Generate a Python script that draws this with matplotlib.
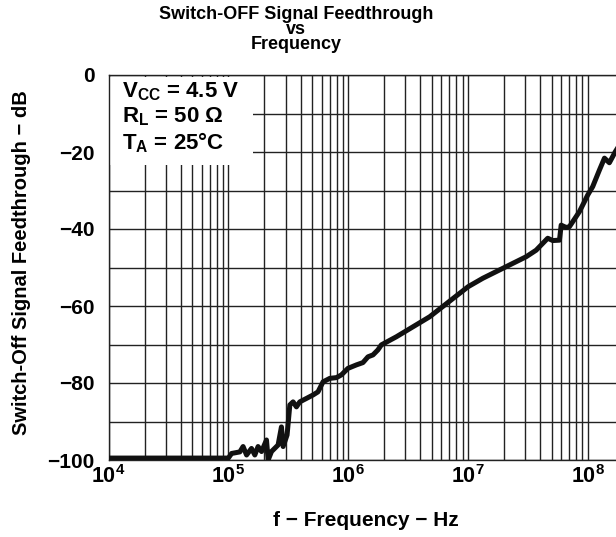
import numpy as np
import matplotlib
matplotlib.use("Agg")
import matplotlib.pyplot as plt
from matplotlib.patches import Rectangle
from matplotlib.ticker import FixedLocator, LogLocator, NullFormatter

plt.rcParams['font.family'] = ['Liberation Sans', 'DejaVu Sans']
plt.rcParams['font.weight'] = 'bold'
plt.rcParams['mathtext.fontset'] = 'custom'
plt.rcParams['mathtext.rm'] = 'Liberation Sans:bold'
plt.rcParams['mathtext.bf'] = 'Liberation Sans:bold'
plt.rcParams['mathtext.it'] = 'Liberation Sans:bold'

# frequency (Hz) and feedthrough (dB)
freq = [1.0e4, 1.0e5, 1.064e5, 1.247e5, 1.327e5, 1.419e5, 1.56e5, 1.663e5, 1.77e5,
        1.892e5, 2.08e5, 2.148e5, 2.291e5, 2.6e5, 2.773e5, 2.864e5, 3.09e5,
        3.258e5, 3.467e5, 3.698e5, 3.945e5, 4.487e5, 5.093e5, 5.598e5, 6.166e5,
        7.015e5, 7.98e5, 8.77e5, 9.95e5, 1.17e6, 1.327e6, 1.462e6, 1.61e6,
        1.77e6, 1.89e6, 2.52e6, 3.47e6, 4.78e6, 1.0e7, 1.327e7, 3.055e7, 3.7e7,
        4.62e7, 5.09e7, 5.79e7, 5.98e7, 6.58e7, 7.01e7, 8.49e7, 9.35e7, 9.95e7,
        1.096e8, 1.247e8, 1.374e8, 1.51e8, 1.694e8, 1.85e8]
feed_db = [-99.5, -99.5, -98.3, -97.9, -96.5, -98.7, -97.0, -98.7, -96.5,
           -97.8, -94.8, -100.0, -97.8, -96.1, -91.4, -96.5, -93.5,
           -85.7, -84.9, -86.2, -84.9, -84.0, -83.1, -82.3, -79.7,
           -78.8, -78.6, -77.9, -76.2, -75.3, -74.7, -73.2, -72.7,
           -71.4, -70.1, -68.0, -65.4, -62.8, -55.0, -52.8, -47.2, -45.5,
           -42.4, -43.0, -42.9, -39.0, -39.6, -39.4, -35.5, -32.9, -31.2,
           -29.0, -24.7, -21.6, -22.8, -19.9, -18.0]

y_ticks = [0, -20, -40, -60, -80, -100]
x_ticks = [1e4, 1e5, 1e6, 1e7, 1e8]
x_tick_labels = [r'$\mathbf{10^{4}}$', r'$\mathbf{10^{5}}$', r'$\mathbf{10^{6}}$',
                 r'$\mathbf{10^{7}}$', r'$\mathbf{10^{8}}$']
note_lines = [r'V$_{\mathbf{CC}}$ = 4.5 V', r'R$_{\mathbf{L}}$ = 50 $\Omega$',
              r'T$_{\mathbf{A}}$ = 25°C']

fig = plt.figure(figsize=(6.16, 5.37), dpi=100)
ax = fig.add_axes([108.5 / 616, 77 / 537, (624 - 108.5) / 616, 385 / 537])

ax.set_xscale('log')
ax.set_xlim(1e4, 2e8)
ax.set_ylim(-100, 0)

ax.xaxis.set_major_locator(FixedLocator(x_ticks))
ax.set_xticklabels(x_tick_labels)
ax.xaxis.set_minor_locator(LogLocator(base=10, subs=np.arange(2, 10)))
ax.xaxis.set_minor_formatter(NullFormatter())
ax.yaxis.set_major_locator(FixedLocator(y_ticks))
ax.set_yticklabels(['0' if v == 0 else '\u2212' + str(-v) for v in y_ticks])
ax.yaxis.set_minor_locator(FixedLocator(np.arange(-90, 0, 20)))

ax.grid(which='both', axis='both', color='#222222', linewidth=1.0)
ax.set_axisbelow(True)
ax.tick_params(which='both', length=0)
ax.tick_params(axis='y', labelsize=15, pad=10)
ax.tick_params(axis='x', labelsize=15.5, pad=4)

for s in ['left', 'bottom', 'top']:
    ax.spines[s].set_color('#222222')
    ax.spines[s].set_linewidth(1.0)
ax.spines['right'].set_visible(False)

# white box behind the conditions text
ax.add_patch(Rectangle((1e4, -23.4), 10 ** 5.204 - 1e4, 23.0, facecolor='white',
                       edgecolor='none', zorder=2))
for i, line in enumerate(note_lines):
    ax.text(1.29e4, -4.3 - 6.6 * i, line, fontsize=16, fontweight='bold',
            va='center', ha='left', zorder=3)

ax.plot(freq, feed_db, color='#111111', linewidth=3.6, solid_joinstyle='round', zorder=4,
        clip_on=True)

ax.set_xlabel('f \u2212 Frequency \u2212 Hz', fontsize=15, fontweight='bold', labelpad=16)
fig.text(22 / 616, 1 - 263 / 537, 'Switch-Off Signal Feedthrough \u2212 dB', rotation=90,
         fontsize=14.5, fontweight='bold', ha='center', va='center')

fig.text(296 / 616, 1 - 29.5 / 537, 'Switch-OFF Signal Feedthrough\nvs\nFrequency',
         fontsize=13, fontweight='bold', ha='center', va='center', linespacing=0.88)

fig.savefig('out.png', dpi=100)
